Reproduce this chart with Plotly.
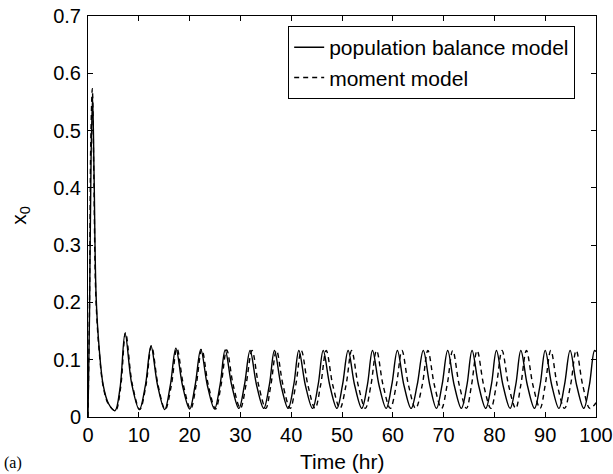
import plotly.graph_objects as go

# ---- data ----
pbm_t = [0, 0.3, 0.6, 0.9, 1.2, 1.6, 2.2, 3.0, 4.0, 5.3,
         6.3, 7.3, 8.6, 10.1,
         11.3, 12.4, 13.7, 15.1,
         16.2, 17.3, 18.6, 20.0,
         21.1, 22.2, 23.5, 24.9,
         26.0, 27.0, 28.3, 29.7,
         30.8, 31.9, 33.2, 34.6,
         35.7, 36.7, 38.0, 39.4,
         40.5, 41.5, 42.8, 44.2,
         45.3, 46.3, 47.6, 49.0,
         50.1, 51.2, 52.5, 53.9,
         55.0, 56.0, 57.3, 58.7,
         59.8, 60.9, 62.2, 63.6,
         64.8, 66.0, 67.3, 68.6,
         69.7, 70.8, 72.1, 73.5,
         74.6, 75.6, 76.9, 78.3,
         79.4, 80.4, 81.7, 83.1,
         84.2, 85.2, 86.5, 87.9,
         89.0, 90.0, 91.3, 92.7,
         93.8, 94.9, 96.2, 97.6,
         98.7, 99.7, 100.0]
pbm_x = [0.0, 0.18, 0.45, 0.56, 0.42, 0.21, 0.12, 0.055, 0.024, 0.011,
         0.05, 0.146, 0.058, 0.013,
         0.055, 0.124, 0.055, 0.013,
         0.055, 0.120, 0.055, 0.014,
         0.056, 0.118, 0.055, 0.014,
         0.056, 0.117, 0.055, 0.015,
         0.056, 0.116, 0.055, 0.015,
         0.056, 0.116, 0.055, 0.015,
         0.056, 0.116, 0.055, 0.015,
         0.056, 0.116, 0.055, 0.015,
         0.056, 0.116, 0.055, 0.015,
         0.056, 0.116, 0.055, 0.015,
         0.056, 0.116, 0.055, 0.015,
         0.056, 0.116, 0.055, 0.015,
         0.056, 0.116, 0.055, 0.015,
         0.056, 0.116, 0.055, 0.015,
         0.056, 0.116, 0.055, 0.015,
         0.056, 0.116, 0.055, 0.015,
         0.056, 0.116, 0.055, 0.015,
         0.056, 0.116, 0.055, 0.015,
         0.056, 0.116, 0.114]

mom_t = [0, 0.3, 0.55, 0.85, 1.15, 1.55, 2.2, 3.0, 4.0, 5.4,
         6.4, 7.4, 8.7, 10.2,
         11.4, 12.5, 13.8, 15.2,
         16.4, 17.5, 18.8, 20.2,
         21.3, 22.4, 23.7, 25.1,
         26.2, 27.3, 28.6, 30.0,
         31.1, 32.3, 33.6, 35.0,
         36.0, 37.1, 38.4, 39.8,
         40.9, 42.0, 43.3, 44.7,
         45.8, 46.9, 48.2, 49.6,
         50.8, 51.9, 53.2, 54.6,
         55.7, 56.8, 58.1, 59.5,
         60.7, 61.8, 63.1, 64.5,
         65.8, 66.9, 68.2, 69.6,
         70.7, 71.8, 73.1, 74.5,
         75.5, 76.6, 77.9, 79.3,
         80.4, 81.5, 82.8, 84.2,
         85.2, 86.3, 87.6, 89.0,
         90.0, 91.1, 92.4, 93.8,
         95.0, 96.1, 97.4, 98.8,
         100.0]
mom_x = [0.0, 0.20, 0.48, 0.573, 0.42, 0.21, 0.115, 0.053, 0.023, 0.011,
         0.05, 0.147, 0.058, 0.013,
         0.055, 0.124, 0.055, 0.013,
         0.055, 0.120, 0.055, 0.014,
         0.056, 0.118, 0.055, 0.014,
         0.056, 0.117, 0.055, 0.015,
         0.056, 0.116, 0.055, 0.015,
         0.056, 0.116, 0.055, 0.015,
         0.056, 0.116, 0.055, 0.015,
         0.056, 0.116, 0.055, 0.015,
         0.056, 0.116, 0.055, 0.015,
         0.056, 0.116, 0.055, 0.015,
         0.056, 0.116, 0.055, 0.015,
         0.056, 0.116, 0.055, 0.015,
         0.056, 0.116, 0.055, 0.015,
         0.056, 0.116, 0.055, 0.015,
         0.056, 0.116, 0.055, 0.015,
         0.056, 0.116, 0.055, 0.015,
         0.056, 0.116, 0.055, 0.015,
         0.056, 0.116, 0.055, 0.015,
         0.025]

x_ticks = [0, 10, 20, 30, 40, 50, 60, 70, 80, 90, 100]
y_ticks = [0, 0.1, 0.2, 0.3, 0.4, 0.5, 0.6, 0.7]
y_tick_labels = ["0", "0.1", "0.2", "0.3", "0.4", "0.5", "0.6", "0.7"]

FONT = "Liberation Sans, Arial, sans-serif"

fig = go.Figure()
fig.add_trace(go.Scatter(x=pbm_t, y=pbm_x, mode="lines", name="population balance model",
                         line=dict(color="black", width=1.4, shape="spline", smoothing=1.0)))
fig.add_trace(go.Scatter(x=mom_t, y=mom_x, mode="lines", name="moment model",
                         line=dict(color="black", width=1.4, dash="5px,4px", shape="spline", smoothing=1.0)))

axis_common = dict(showline=True, linecolor="black", linewidth=1, mirror="ticks",
                   ticks="inside", ticklen=5, tickcolor="black", tickwidth=1,
                   showgrid=False, zeroline=False, automargin=False,
                   tickfont=dict(family=FONT, size=20, color="black"))

fig.update_xaxes(range=[0, 100], tickvals=x_ticks, **axis_common)
fig.update_yaxes(range=[0, 0.7], tickvals=y_ticks, ticktext=y_tick_labels,
                 ticklabelstandoff=2, **axis_common)

fig.update_layout(
    width=613, height=474,
    margin=dict(l=88, r=17, t=16, b=57, autoexpand=False),
    plot_bgcolor="white", paper_bgcolor="white",
    showlegend=True,
    legend=dict(x=0.959, y=0.975, xanchor="right", yanchor="top",
                bgcolor="white", bordercolor="black", borderwidth=1,
                font=dict(family=FONT, size=21, color="black"),
                tracegroupgap=0, itemwidth=30),
    annotations=[
        dict(text="Time (hr)", x=0.5, y=-0.112, xref="paper", yref="paper",
             xanchor="center", yanchor="middle", showarrow=False,
             font=dict(family=FONT, size=21, color="black")),
        dict(text="x<sub>0</sub>", x=-0.134, y=0.504, xref="paper", yref="paper",
             xanchor="center", yanchor="middle", showarrow=False, textangle=-90,
             font=dict(family=FONT, size=21, color="black")),
        dict(text="(a)", x=-0.148, y=-0.115, xref="paper", yref="paper",
             xanchor="center", yanchor="middle", showarrow=False,
             font=dict(family="Liberation Serif, Times New Roman, serif", size=16, color="black")),
    ],
)

fig.write_html("out.html")
